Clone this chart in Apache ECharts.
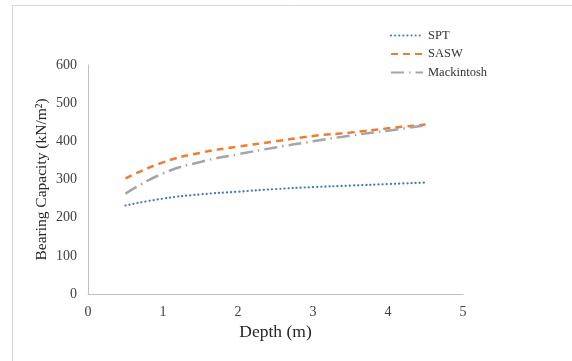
<!DOCTYPE html>
<html>
<head>
<meta charset="utf-8">
<style>
  html, body { margin: 0; padding: 0; background: #fff; }
  #chart { width: 572px; height: 361px; }
</style>
<script src="https://cdn.jsdelivr.net/npm/echarts@6/dist/echarts.min.js"></script>
</head>
<body>
<div id="chart"></div>
<script>
// Bearing capacity versus depth for three estimation methods
const depth = [0.5, 1, 1.5, 2, 2.5, 3, 3.5, 4, 4.5];
const spt = [232, 250, 261, 268, 275, 280, 284, 288, 292];
const sasw = [303, 345, 370, 386, 400, 414, 423, 434, 444];
const mackintosh = [263, 316, 346, 366, 384, 400, 415, 428, 442];
const xTicks = [0, 1, 2, 3, 4, 5];
const yTicks = [0, 100, 200, 300, 400, 500, 600];

const serif = '"Liberation Serif", "DejaVu Serif", serif';

function pairs(ys) {
  return depth.map((d, i) => [d, ys[i]]);
}

const chart = echarts.init(document.getElementById('chart'));
chart.setOption({
  animation: false,
  backgroundColor: '#ffffff',
  textStyle: { fontFamily: serif },
  graphic: [{
    type: 'polyline',
    shape: { points: [[12.5, 400], [12.5, 5.5], [600, 5.5]] },
    style: { stroke: '#d9d9d9', lineWidth: 1, fill: null },
    silent: true
  }],
  grid: { left: 88, right: 109, top: 65, bottom: 67 },
  legend: {
    orient: 'vertical',
    left: 385,
    top: 24,
    itemWidth: 32,
    itemHeight: 14,
    itemGap: 5.5,
    itemStyle: { opacity: 0 },
    textStyle: { fontFamily: serif, fontSize: 12.5, color: '#333333' },
    data: ['SPT', 'SASW', 'Mackintosh']
  },
  xAxis: {
    type: 'value',
    min: 0, max: 5, interval: 1,
    name: 'Depth (m)',
    nameLocation: 'middle',
    nameGap: 29,
    nameMoveOverlap: false,
    nameTextStyle: { fontFamily: serif, fontSize: 17.5, color: '#262626' },
    axisLine: { show: true, lineStyle: { color: '#bfbfbf', width: 1 } },
    axisTick: { show: false },
    splitLine: { show: false },
    axisLabel: {
      margin: 11, fontFamily: serif, fontSize: 14, color: '#404040',
      formatter: v => xTicks.includes(v) ? String(v) : ''
    }
  },
  yAxis: {
    type: 'value',
    min: 0, max: 600, interval: 100,
    name: 'Bearing Capacity (kN/m²)',
    nameLocation: 'middle',
    nameGap: 38,
    nameMoveOverlap: false,
    nameTextStyle: { fontFamily: serif, fontSize: 15.5, color: '#262626' },
    axisLine: { show: true, lineStyle: { color: '#bfbfbf', width: 1 } },
    axisTick: { show: false },
    splitLine: { show: false },
    axisLabel: {
      margin: 11, fontFamily: serif, fontSize: 14, color: '#404040',
      formatter: v => yTicks.includes(v) ? String(v) : ''
    }
  },
  series: [
    {
      name: 'SPT', type: 'line', smooth: true, symbol: 'none',
      data: pairs(spt),
      itemStyle: { color: '#4472c4' },
      lineStyle: { color: '#4472c4', width: 2.2, type: [0.1, 4], cap: 'round' }
    },
    {
      name: 'SASW', type: 'line', smooth: true, symbol: 'none',
      data: pairs(sasw),
      itemStyle: { color: '#ed7d31' },
      lineStyle: { color: '#ed7d31', width: 2.5, type: [7, 5] }
    },
    {
      name: 'Mackintosh', type: 'line', smooth: true, symbol: 'none',
      data: pairs(mackintosh),
      itemStyle: { color: '#a5a5a5' },
      lineStyle: { color: '#a5a5a5', width: 2.5, type: [13, 5, 1.5, 5] }
    }
  ]
});
</script>
</body>
</html>
